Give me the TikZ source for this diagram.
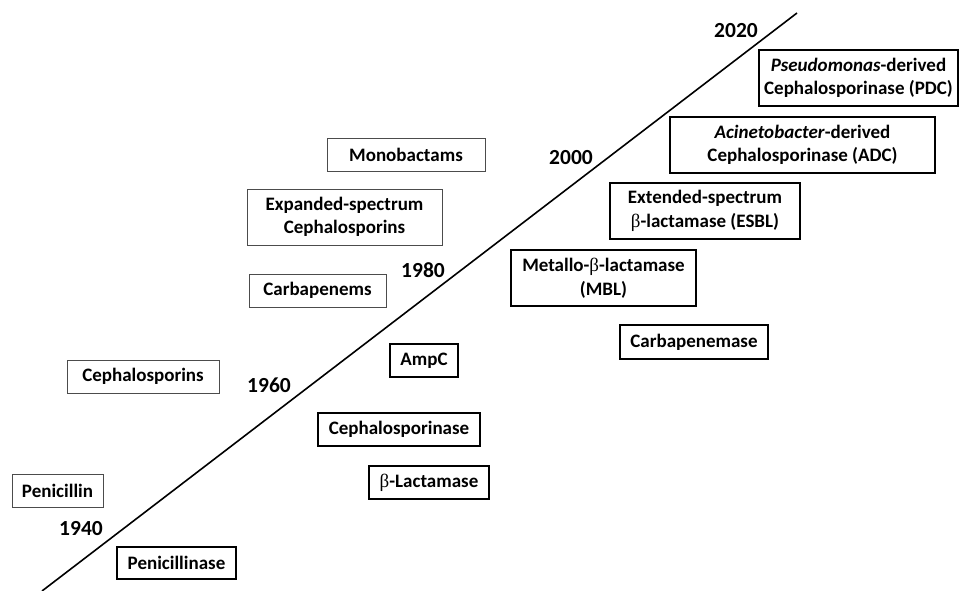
\documentclass[tikz,border=0pt]{standalone}
\usepackage{fontspec}
\setmainfont{Carlito}
\newfontfamily\grk{Liberation Serif}
\newcommand{\bet}{{\grk\mdseries β}}
\begin{document}
\begin{tikzpicture}[x=1pt,y=-1pt]
        		\tikzstyle{drug}=[draw=black!70,line width=0.9pt,inner sep=0pt,font=\bfseries\fontsize{19}{23.5}\selectfont,align=center]
        		\tikzstyle{enzyme}=[draw=black,line width=1.8pt,inner sep=0pt,font=\bfseries\fontsize{19}{23.5}\selectfont,align=center]
        		\tikzstyle{year}=[font=\bfseries\fontsize{21.5}{24}\selectfont]
        		\useasboundingbox (0,0) rectangle (962,590);
       			\begin{scope}
			        % timeline
			        \coordinate (t0) at (42,591);
			        \coordinate (t1) at (797,13);
			        \draw[line width=1.6pt] (t0) -- (t1);
			        \node [year] (y1940) at (81,529) {1940};
			        \node [year] (y1960) at (269,385) {1960};
			        \node [year] (y1980) at (423,270) {1980};
			        \node [year] (y2000) at (571,158) {2000};
			        \node [year] (y2020) at (736,31) {2020};
			        % antibiotics
			        \node [drug,minimum width=91,minimum height=33] (pen) at (57.5,490.5) {Penicillin};
			        \node [drug,minimum width=152,minimum height=33] (ceph) at (143,376.5) {Cephalosporins};
			        \node [drug,minimum width=137,minimum height=33] (carb) at (317.5,290.5) {Carbapenems};
			        \node [drug,minimum width=195,minimum height=56] (esc) at (344.5,217) {Expanded-spectrum\\Cephalosporins};
			        \node [drug,minimum width=158,minimum height=33] (mono) at (406,154.5) {Monobactams};
			        % enzymes
			        \node [enzyme,minimum width=119,minimum height=32] (penase) at (176.5,563) {Penicillinase};
			        \node [enzyme,minimum width=120,minimum height=33] (blac) at (429,482.5) {\bet-Lactamase};
			        \node [enzyme,minimum width=162,minimum height=33] (cephase) at (399,429.5) {Cephalosporinase};
			        \node [enzyme,minimum width=68,minimum height=33] (ampc) at (424,360.5) {AmpC};
			        \node [enzyme,minimum width=148,minimum height=34] (carbase) at (694,342) {Carbapenemase};
			        \node [enzyme,minimum width=185,minimum height=56] (mbl) at (603.5,278) {Metallo-\bet-lactamase\\(MBL)};
			        \node [enzyme,minimum width=190,minimum height=56] (esbl) at (705,211) {Extended-spectrum\\\bet-lactamase (ESBL)};
			        \node [enzyme,minimum width=265,minimum height=56] (adc) at (802.5,145) {\textit{Acinetobacter}-derived\\Cephalosporinase (ADC)};
			        \node [enzyme,minimum width=199,minimum height=56] (pdc) at (858.5,78) {\textit{Pseudomonas}-derived\\Cephalosporinase (PDC)};
        		\end{scope}
      		\end{tikzpicture}
\end{document}
